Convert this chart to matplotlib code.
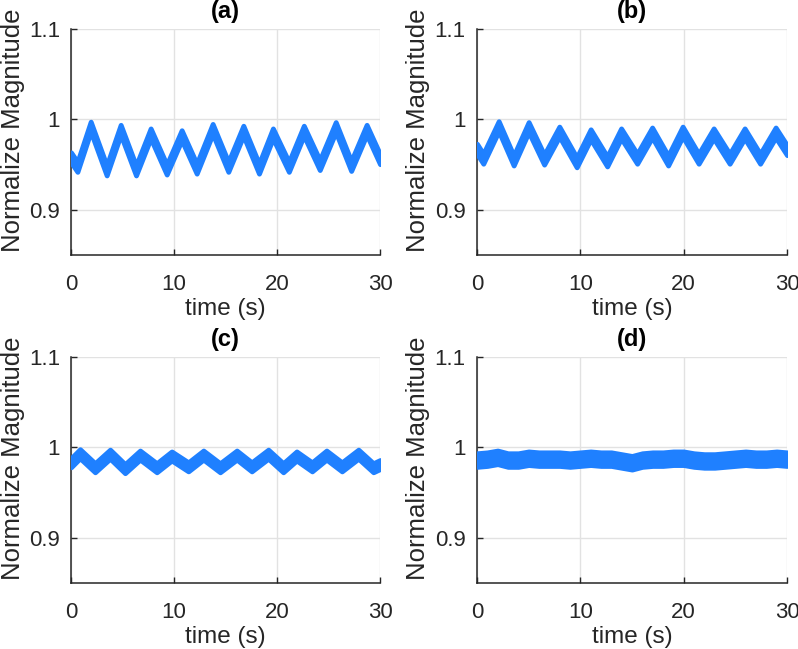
import matplotlib
matplotlib.use("Agg")
import matplotlib.pyplot as plt

plt.rcParams['font.family'] = ['Liberation Sans', 'DejaVu Sans']

# centre of the noisy signal at its turning points (s, normalized magnitude)
t_a = [0, 0.62, 1.91, 3.46, 4.82, 6.31, 7.73, 9.29, 10.74, 12.2, 13.75, 15.27,
       16.73, 18.25, 19.6, 21.15, 22.6, 24.15, 25.7, 27.2, 28.7, 30]
y_a = [0.958, 0.9475, 0.992, 0.9435, 0.9885, 0.9435, 0.9845, 0.9445, 0.9825, 0.9455, 0.9895, 0.9475,
       0.9875, 0.9455, 0.9845, 0.9475, 0.9875, 0.9495, 0.9915, 0.9485, 0.9885, 0.956]

t_b = [0, 0.61, 2.1, 3.55, 5.0, 6.5, 7.97, 9.65, 11.0, 12.6, 13.95, 15.5,
       16.95, 18.5, 19.9, 21.45, 22.9, 24.45, 25.9, 27.4, 28.9, 30]
y_b = [0.9675, 0.9565, 0.9925, 0.9545, 0.9915, 0.9555, 0.9865, 0.9525, 0.9835, 0.9535, 0.9845, 0.9565,
       0.9855, 0.9545, 0.9865, 0.9565, 0.9845, 0.9565, 0.9845, 0.9565, 0.9855, 0.966]

t_c = [0, 0.87, 2.33, 3.79, 5.24, 6.70, 8.32, 9.77, 11.39, 12.85, 14.47, 16.09,
       17.54, 19.15, 20.6, 21.9, 23.4, 24.8, 26.3, 27.9, 29.35, 30]
y_c = [0.983, 0.993, 0.9775, 0.9925, 0.9765, 0.9915, 0.9775, 0.9905, 0.9785, 0.9915, 0.9775, 0.9915,
       0.9785, 0.9925, 0.9775, 0.9905, 0.9785, 0.9915, 0.9785, 0.9925, 0.9775, 0.981]

t_d = [0, 1, 2, 3, 4, 5, 6, 7, 8, 9, 10, 11, 12, 13, 14, 15, 16, 17, 18, 19, 20,
       21, 22, 23, 24, 25, 26, 27, 28, 29, 30]
y_d = [0.986, 0.987, 0.989, 0.986, 0.986, 0.988, 0.987, 0.987, 0.987, 0.986, 0.987,
       0.988, 0.987, 0.987, 0.985, 0.983, 0.986, 0.987, 0.987, 0.988, 0.988,
       0.986, 0.985, 0.985, 0.986, 0.987, 0.988, 0.987, 0.987, 0.988, 0.987]

# half height of the noise band in each panel (edge line adds a bit more)
half_band = [0.0055, 0.0055, 0.005, 0.0075]
titles = ["(a)", "(b)", "(c)", "(d)"]
series = [(t_a, y_a), (t_b, y_b), (t_c, y_c), (t_d, y_d)]

blue = "#1f80ff"
dark = "#262626"

fig = plt.figure(figsize=(7.98, 6.49), dpi=100)
positions = [[0.0890, 0.6071, 0.3872, 0.3482],
             [0.5977, 0.6071, 0.3885, 0.3482],
             [0.0890, 0.1017, 0.3872, 0.3482],
             [0.5977, 0.1017, 0.3885, 0.3482]]

for pos, (t, y), h, title in zip(positions, series, half_band, titles):
    ax = fig.add_axes(pos)
    lower = [v - h for v in y]
    upper = [v + h for v in y]
    ax.fill_between(t, lower, upper, color=blue, edgecolor=blue, linewidth=3.5,
                    joinstyle="round", zorder=3)

    ax.set_xlim(0, 30)
    ax.set_ylim(0.85, 1.1)
    ax.set_xticks([0, 10, 20, 30])
    ax.set_yticks([0.9, 1.0, 1.1])
    ax.set_yticklabels(["0.9", "1", "1.1"])
    ax.grid(True, color="#e2e2e2", linewidth=1.0, zorder=0)
    ax.set_axisbelow(True)

    for side in ["top", "right"]:
        ax.spines[side].set_visible(False)
    for side in ["left", "bottom"]:
        ax.spines[side].set_color(dark)
        ax.spines[side].set_linewidth(1.1)
    ax.tick_params(direction="in", length=4, width=1.0, colors=dark, labelsize=16)
    ax.tick_params(axis="x", pad=14)
    ax.tick_params(axis="y", pad=8)

    ax.set_xlabel("time (s)", fontsize=17.5, color=dark, labelpad=2)
    ax.set_ylabel("Normalize Magnitude", fontsize=18.5, color=dark)
    ax.yaxis.set_label_coords(-0.15, 0.55)
    ax.set_title(title, fontsize=17, fontweight="bold", color="black", pad=8)

fig.savefig("out.png", dpi=100)
